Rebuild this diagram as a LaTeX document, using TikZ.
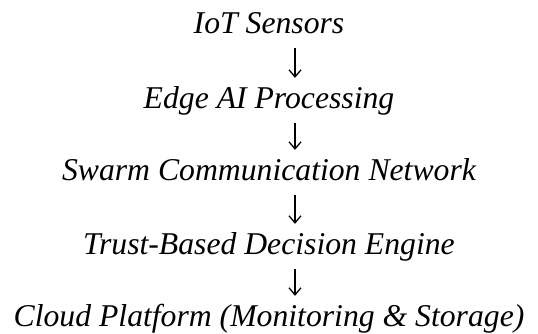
\documentclass[tikz,border=0pt]{standalone}
\usepackage{fontspec}
\setmainfont{Liberation Serif}
\usetikzlibrary{arrows.meta}
\tikzset{
	stage/.style={anchor=base, inner sep=0pt, text height=21pt, text depth=7pt, font=\fontsize{31.7}{36}\selectfont\itshape},
	flow/.style={line width=1.3pt, -{Straight Barb[length=7pt,width=12pt]}, shorten <=8pt, shorten >=9pt}
}
\begin{document}
\begin{tikzpicture}[x=1pt,y=1pt]
\useasboundingbox (0,0) rectangle (538,333);
\node[stage] (iot) at (269,300) {IoT Sensors};
\node[stage] (edge) at (269,225) {Edge AI Processing};
\node[stage] (swarm) at (269,153) {Swarm Communication Network};
\node[stage] (trust) at (269,79) {Trust-Based Decision Engine};
\node[stage] (cloud) at (269,7) {Cloud Platform (Monitoring \& Storage)};
\foreach \a/\b in {iot/edge,edge/swarm,swarm/trust,trust/cloud}
	\draw[flow] ([xshift=26pt]\a.south) -- ([xshift=26pt]\b.north);
\end{tikzpicture}
\end{document}
